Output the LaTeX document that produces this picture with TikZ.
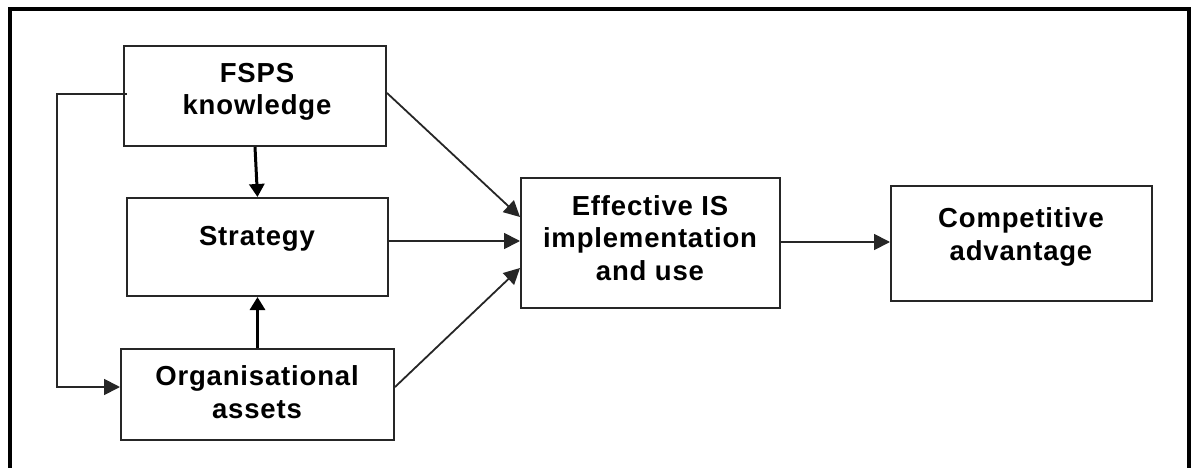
\documentclass[tikz,border=0pt]{standalone}
\usepackage{fontspec}
\setmainfont[LetterSpace=3]{Liberation Sans}
\usetikzlibrary{arrows.meta}
\begin{document}
\begin{tikzpicture}[x=1pt,y=-1pt,
  box/.style={draw=black!85,line width=2pt,inner sep=0pt},
  lbl/.style={align=center,font=\bfseries\fontsize{27.5}{32.5}\selectfont,inner sep=0pt},
  arr/.style={draw=black!85,line width=1.8pt,-{Triangle[length=16pt,width=16pt]}},
  thickarr/.style={draw=black,line width=3pt,-{Triangle[length=13pt,width=15pt]}}]
\useasboundingbox (0,0) rectangle (1194,468);
% outer frame, open at the bottom
\draw[line width=4pt] (10,468) -- (10,9.5) -- (1188.5,9.5) -- (1188.5,468);

% boxes
\node[box,minimum width=262pt,minimum height=100pt] (fsps) at (255,96) {};
\node[box,minimum width=261pt,minimum height=98pt] (strat) at (257.5,247) {};
\node[box,minimum width=273pt,minimum height=91pt] (org) at (257.5,394.5) {};
\node[box,minimum width=259pt,minimum height=130pt] (eff) at (650.5,243) {};
\node[box,minimum width=261pt,minimum height=115pt] (comp) at (1021.5,243.5) {};

% labels
\node[lbl] (tfsps) at (257,92) {FSPS\\knowledge};
\node[lbl] (tstrat) at (257,239) {Strategy};
\node[lbl] (torg) at (257,392) {Organisational\\assets};
\node[lbl] (teff) at (650,238) {Effective IS\\implementation\\and use};
\node[lbl] (tcomp) at (1021,237) {Competitive\\advantage};

% feedback loop from knowledge to assets
\coordinate (fb1) at (57,94);
\coordinate (fb2) at (57,387);
\draw[arr] ([xshift=4pt]fsps.west |- fb1) -- (fb1) -- (fb2) -- (org.west |- fb2);

% vertical links into strategy
\draw[thickarr] (fsps.south) -- (strat.north);
\draw[thickarr] (org.north) -- (strat.south);

% links into effective IS
\draw[arr] ([yshift=3pt]fsps.east) -- ([yshift=26pt]eff.west);
\draw[arr] ([yshift=6pt]strat.east) -- ([yshift=2pt]eff.west);
\draw[arr] ([yshift=7.5pt]org.east) -- ([yshift=-25pt]eff.west);

% outcome
\draw[arr] ([yshift=1pt]eff.east) -- ([yshift=1.5pt]comp.west);
\end{tikzpicture}
\end{document}
